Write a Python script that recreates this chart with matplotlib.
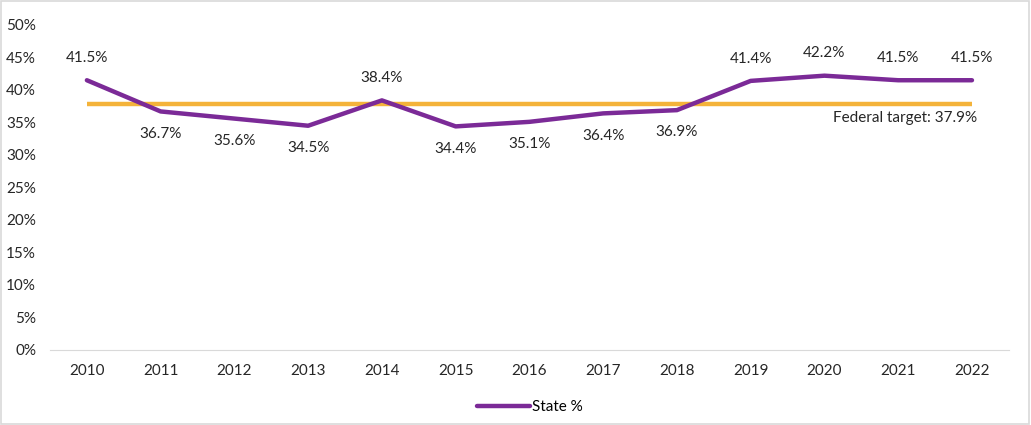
import matplotlib.pyplot as plt
from matplotlib.patches import Rectangle

plt.rcParams['font.family'] = ['Lato', 'DejaVu Sans']

years = ['2010', '2011', '2012', '2013', '2014', '2015', '2016',
         '2017', '2018', '2019', '2020', '2021', '2022']
state = [41.5, 36.7, 35.6, 34.5, 38.4, 34.4, 35.1, 36.4, 36.9, 41.4, 42.2, 41.5, 41.5]
target = 37.9
# position du label : au-dessus (1) ou en dessous (-1)
label_pos = [1, -1, -1, -1, 1, -1, -1, -1, -1, 1, 1, 1, 1]

purple = '#7B2A97'
orange = '#F4B33A'
txt = '#262626'
fs = 11

fig = plt.figure(figsize=(10.31, 4.25), dpi=100)
ax = fig.add_axes([0.0485, 0.1765, 0.93, 0.7647])

x = list(range(len(years)))
ax.plot(x, [target] * len(x), color=orange, lw=3.2, solid_capstyle='butt', zorder=2)
ax.plot(x, state, color=purple, lw=3.2, solid_capstyle='round', zorder=3, label='State %')

for i, v in enumerate(state):
    off = 16 if label_pos[i] > 0 else -16
    ax.annotate(f'{v}%', (i, v), xytext=(0, off), textcoords='offset points',
                ha='center', va='center', fontsize=fs, color=txt)

ax.annotate(f'Federal target: {target}%', (12, target), xytext=(4, -10),
            textcoords='offset points', ha='right', va='center',
            fontsize=fs, color=txt)

ax.set_xlim(-0.5, 12.5)
ax.set_ylim(0, 50)
ax.set_xticks(x)
ax.set_xticklabels(years)
ax.set_yticks(range(0, 51, 5))
ax.set_yticklabels([f'{t}%' for t in range(0, 51, 5)])
ax.tick_params(axis='both', length=0, labelsize=fs, colors=txt)
ax.tick_params(axis='x', pad=10)
ax.tick_params(axis='y', pad=10)
for s in ['top', 'right', 'left']:
    ax.spines[s].set_visible(False)
ax.spines['bottom'].set_color('#D9D9D9')

ax.legend(loc='center', bbox_to_anchor=(0.5, -0.175), frameon=False,
          fontsize=fs, handlelength=3.5, handletextpad=0.1)

fig.patches.append(Rectangle((0.001, 0.002), 0.997, 0.995, transform=fig.transFigure,
                             fill=False, edgecolor='#D9D9D9', lw=1.2))

fig.savefig('out.png', dpi=100)
